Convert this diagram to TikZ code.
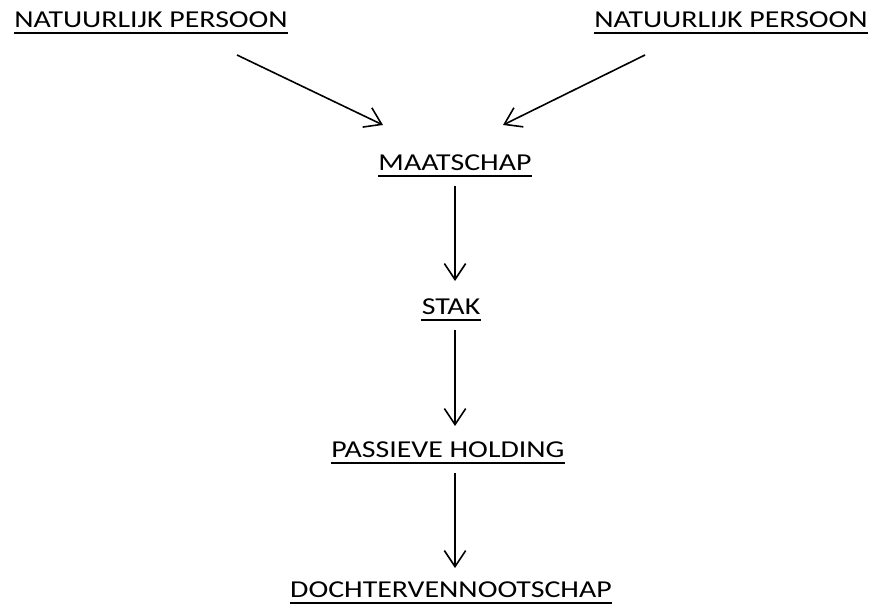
\documentclass[tikz,border=0pt]{standalone}
\usepackage{fontspec}
\setmainfont{Carlito}
\usetikzlibrary{arrows.meta}
\tikzset{
  label text/.style={inner sep=0pt, anchor=base, font=\fontsize{18.2}{20}\selectfont},
  uline/.style={line width=1.6pt},
  link/.style={line width=1.2pt, -{Straight Barb[length=12pt,width=16pt,line width=1.2pt]}}
}
\newcommand{\wide}[1]{\scalebox{1.23}[1]{#1}}
\begin{document}
\begin{tikzpicture}[x=0.75pt,y=-0.75pt]
  \useasboundingbox (0,0) rectangle (872,607);
  \node[label text] (np1) at (151,27) {\wide{NATUURLIJK PERSOON}};
  \node[label text] (np2) at (731,27) {\wide{NATUURLIJK PERSOON}};
  \node[label text] (maat) at (455,170) {\wide{MAATSCHAP}};
  \node[label text] (stak) at (451,314) {\wide{STAK}};
  \node[label text] (hold) at (448,457) {\wide{PASSIEVE HOLDING}};
  \node[label text] (doch) at (451,597) {\wide{DOCHTERVENNOOTSCHAP}};
  \foreach \n in {np1,np2,maat,stak,hold,doch}
    \draw[uline] ([yshift=-4.6pt]\n.base west) -- ([yshift=-4.6pt]\n.base east);
  \coordinate (a1s) at (237,55);
  \coordinate (a1e) at (383,125);
  \coordinate (a2s) at (645,55);
  \coordinate (a2e) at (503,125);
  \draw[link] (a1s) -- (a1e);
  \draw[link] (a2s) -- (a2e);
  \draw[link] (455,186) -- (455,281);
  \draw[link] (455,330) -- (455,426);
  \draw[link] (455,473) -- (455,568);
\end{tikzpicture}
\end{document}
